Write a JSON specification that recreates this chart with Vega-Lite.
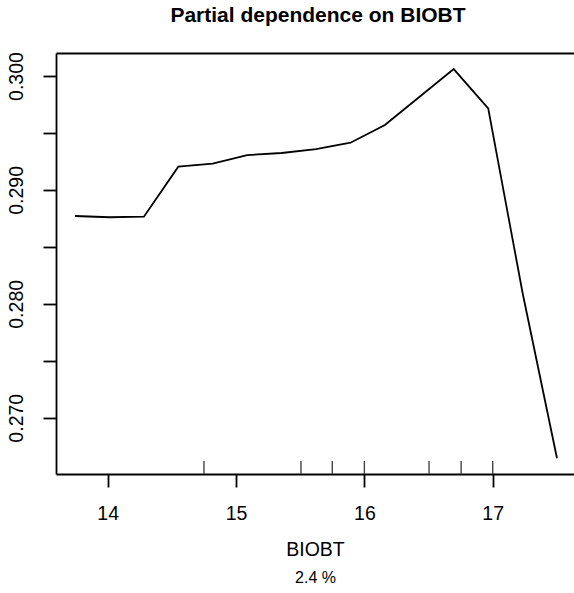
{
  "$schema": "https://vega.github.io/schema/vega-lite/v6.json",
  "autosize": "none",
  "width": 518,
  "height": 421,
  "padding": {"left": 56, "top": 53, "right": 0, "bottom": 119},
  "background": "white",
  "title": {
    "text": "Partial dependence on BIOBT",
    "font": "Liberation Sans",
    "fontSize": 21,
    "fontWeight": "bold",
    "color": "black",
    "anchor": "middle",
    "offset": 26,
    "dx": 3
  },
  "config": {
    "view": {"stroke": null},
    "font": "Liberation Sans",
    "axis": {
      "labelFont": "Liberation Sans",
      "titleFont": "Liberation Sans",
      "labelColor": "black",
      "titleColor": "black",
      "domainColor": "black",
      "tickColor": "black",
      "domainWidth": 1.8,
      "tickWidth": 1.8,
      "grid": false
    }
  },
  "datasets": {
    "pd": [
      {"BIOBT": 13.745, "yhat": 0.28771},
      {"BIOBT": 14.013, "yhat": 0.28760},
      {"BIOBT": 14.282, "yhat": 0.28765},
      {"BIOBT": 14.550, "yhat": 0.29204},
      {"BIOBT": 14.818, "yhat": 0.29230},
      {"BIOBT": 15.087, "yhat": 0.29306},
      {"BIOBT": 15.355, "yhat": 0.29324},
      {"BIOBT": 15.623, "yhat": 0.29359},
      {"BIOBT": 15.892, "yhat": 0.29414},
      {"BIOBT": 16.160, "yhat": 0.29570},
      {"BIOBT": 16.428, "yhat": 0.29816},
      {"BIOBT": 16.696, "yhat": 0.30061},
      {"BIOBT": 16.965, "yhat": 0.29716},
      {"BIOBT": 17.233, "yhat": 0.28095},
      {"BIOBT": 17.501, "yhat": 0.26644}
    ],
    "rug": [
      {"BIOBT": 14.75},
      {"BIOBT": 15.506},
      {"BIOBT": 15.75},
      {"BIOBT": 16.0},
      {"BIOBT": 16.504},
      {"BIOBT": 16.754},
      {"BIOBT": 17.0}
    ],
    "caption": [
      {"BIOBT": 15.6}
    ]
  },
  "layer": [
    {
      "data": {"name": "pd"},
      "mark": {"type": "line", "color": "black", "strokeWidth": 1.8, "clip": true},
      "encoding": {
        "x": {
          "field": "BIOBT",
          "type": "quantitative",
          "scale": {"domain": [13.597, 17.6335], "nice": false, "zero": false},
          "axis": {
            "orient": "bottom",
            "values": [14, 15, 16, 17],
            "format": "d",
            "tickSize": 13,
            "labelFontSize": 19.5,
            "labelPadding": 17,
            "labelFlush": false,
            "labelOverlap": false,
            "title": "BIOBT",
            "titleFontSize": 19.5,
            "titleFontWeight": "normal",
            "titlePadding": 18
          }
        },
        "y": {
          "field": "yhat",
          "type": "quantitative",
          "scale": {"domain": [0.26506, 0.30202], "nice": false, "zero": false},
          "axis": {
            "orient": "left",
            "values": [0.270, 0.275, 0.280, 0.285, 0.290, 0.295, 0.300],
            "labelExpr": "abs(datum.value * 100 - round(datum.value * 100)) < 0.01 ? format(datum.value, '.3f') : ''",
            "tickSize": 13,
            "labelFontSize": 19.5,
            "labelAngle": 270,
            "labelAlign": "center",
            "labelBaseline": "bottom",
            "labelPadding": 17,
            "labelFlush": false,
            "labelOverlap": false,
            "title": null
          }
        }
      }
    },
    {
      "data": {"name": "rug"},
      "mark": {"type": "rule", "color": "#444444", "strokeWidth": 1.4},
      "encoding": {
        "x": {
          "field": "BIOBT",
          "type": "quantitative",
          "axis": {
            "orient": "top",
            "ticks": false,
            "labels": false,
            "title": null,
            "domain": true
          }
        },
        "y": {"datum": 0.26506, "type": "quantitative"},
        "y2": {"datum": 0.26620}
      }
    },
    {
      "data": {"name": "caption"},
      "mark": {"type": "point", "opacity": 0},
      "encoding": {
        "x": {
          "field": "BIOBT",
          "type": "quantitative",
          "axis": {
            "orient": "bottom",
            "ticks": false,
            "labels": false,
            "domain": false,
            "title": "2.4 %",
            "titleFontSize": 16,
            "titleFontWeight": "normal",
            "titlePadding": 95
          }
        },
        "y": {"datum": 0.28, "type": "quantitative"}
      }
    }
  ],
  "resolve": {"axis": {"x": "independent"}}
}
